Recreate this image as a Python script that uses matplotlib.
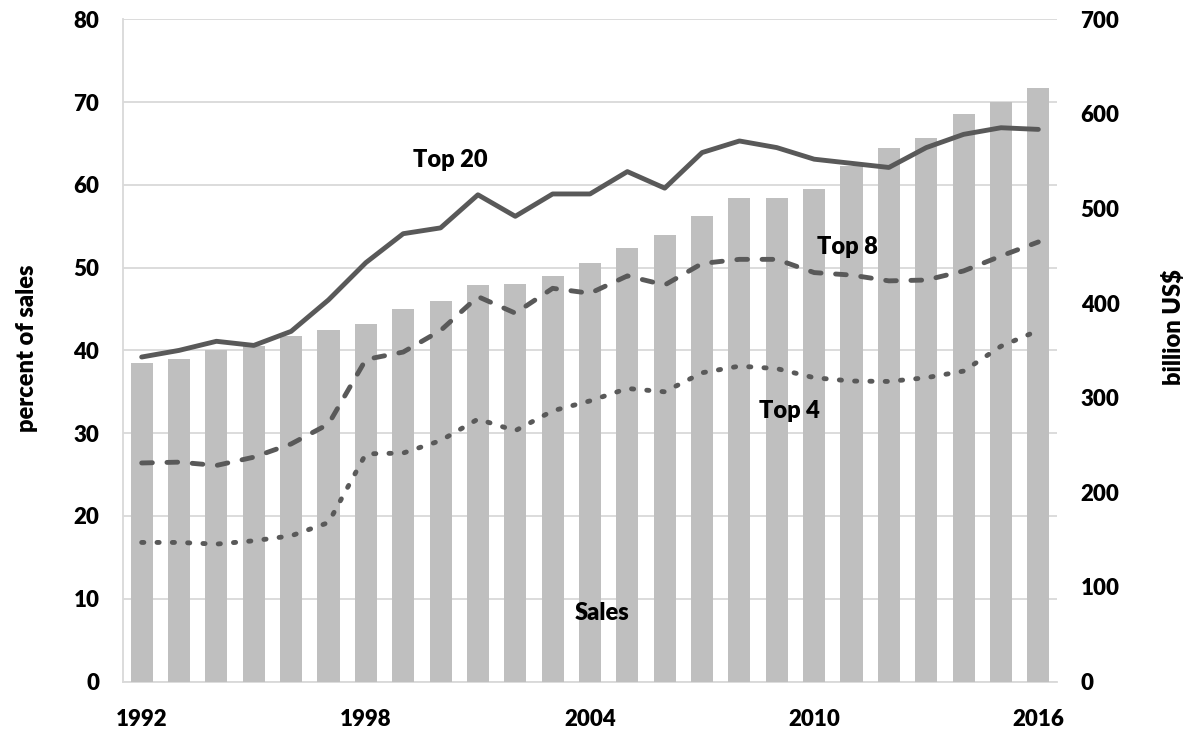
import matplotlib
matplotlib.use("Agg")
import matplotlib.pyplot as plt
import numpy as np

plt.rcParams['font.family'] = ['Lato', 'DejaVu Sans']
plt.rcParams['font.weight'] = 'heavy'

years = list(range(1992, 2017))
sales = [337, 341, 350, 355, 365, 372, 378, 394, 402, 419, 420, 429, 442, 458,
         472, 492, 511, 511, 521, 545, 564, 575, 600, 613, 627]
top20 = [39.2, 40.0, 41.1, 40.6, 42.3, 46.1, 50.6, 54.1, 54.8, 58.8, 56.2, 58.9,
         58.9, 61.6, 59.6, 63.9, 65.3, 64.5, 63.1, 62.6, 62.1, 64.5, 66.1, 66.9, 66.7]
top8 = [26.4, 26.5, 26.1, 27.1, 28.7, 31.1, 38.9, 39.8, 42.4, 46.5, 44.5, 47.5,
        46.9, 49.0, 47.9, 50.5, 51.0, 51.0, 49.4, 49.1, 48.4, 48.5, 49.6, 51.4, 53.1]
top4 = [16.8, 16.8, 16.6, 17.0, 17.6, 19.2, 27.5, 27.6, 29.1, 31.7, 30.3, 32.7,
        33.9, 35.4, 35.0, 37.3, 38.1, 37.8, 36.7, 36.3, 36.25, 36.7, 37.5, 40.5, 42.4]
xtick_years = [1992, 1998, 2004, 2010, 2016]
left_ticks = list(range(0, 81, 10))
right_ticks = list(range(0, 701, 100))

BAR = '#BFBFBF'
LINE = '#595959'
GRID = '#D9D9D9'
FS = 16
FS2 = 17
FW = 'heavy'

fig = plt.figure(figsize=(11.93, 7.32), dpi=100)
L, R = 123 / 1193, 1057 / 1193
B, T = (732 - 681.5) / 732, (732 - 19.3) / 732
ax = fig.add_axes([L, B, R - L, T - B])
x = np.arange(len(years))

ax.set_xlim(-0.5, len(years) - 0.5)
ax.set_ylim(0, 80)
ax.set_yticks(left_ticks)
ax.grid(axis='y', color=GRID, linewidth=1.3)
ax.set_axisbelow(True)
for s in ['top', 'right']:
    ax.spines[s].set_visible(False)
for s in ['left', 'bottom']:
    ax.spines[s].set_color(GRID)
    ax.spines[s].set_linewidth(1.3)
ax.tick_params(axis='y', length=0, pad=17, labelsize=FS)
ax.set_xticks([years.index(y) for y in xtick_years])
ax.set_xticklabels([str(y) for y in xtick_years])
ax.tick_params(axis='x', length=0, pad=20, labelsize=FS)
for lab in ax.get_xticklabels() + ax.get_yticklabels():
    lab.set_fontweight(FW)

ax2 = ax.twinx()
ax2.bar(x, sales, width=0.59, color=BAR, zorder=2)
ax2.set_ylim(0, 700)
ax2.set_yticks(right_ticks)
ax2.tick_params(axis='y', length=0, pad=17, labelsize=FS)
for lab in ax2.get_yticklabels():
    lab.set_fontweight(FW)
for s in ['top', 'right', 'left', 'bottom']:
    ax2.spines[s].set_visible(False)

ax3 = ax.twinx()
ax3.set_ylim(0, 80)
ax3.set_yticks([])
for s in ['top', 'right', 'left', 'bottom']:
    ax3.spines[s].set_visible(False)
lw = 3.5
ax3.plot(x, top20, color=LINE, lw=lw, solid_capstyle='round', solid_joinstyle='round')
ax3.plot(x, top8, color=LINE, lw=lw, dashes=(2.2, 3.0), dash_capstyle='round')
ax3.plot(x, top4, color=LINE, lw=lw, dashes=(0.45, 2.7), dash_capstyle='round')

ax3.text(8.25, 62.2, 'Top 20', ha='center', va='baseline', fontsize=FS2, fontweight=FW)
ax3.text(18.9, 51.6, 'Top 8', ha='center', va='baseline', fontsize=FS2, fontweight=FW)
ax3.text(17.35, 31.8, 'Top 4', ha='center', va='baseline', fontsize=FS2, fontweight=FW)
ax3.text(12.33, 7.4, 'Sales', ha='center', va='baseline', fontsize=FS2, fontweight=FW)

fig.text(27 / 1193, 1 - 348 / 732, 'percent of sales', rotation=90, ha='center', va='center',
         fontsize=FS2, fontweight=FW)
fig.text(1173 / 1193, 1 - 327 / 732, 'billion US$', rotation=90, ha='center', va='center',
         fontsize=FS2, fontweight=FW)

fig.savefig('out.png', dpi=100)
